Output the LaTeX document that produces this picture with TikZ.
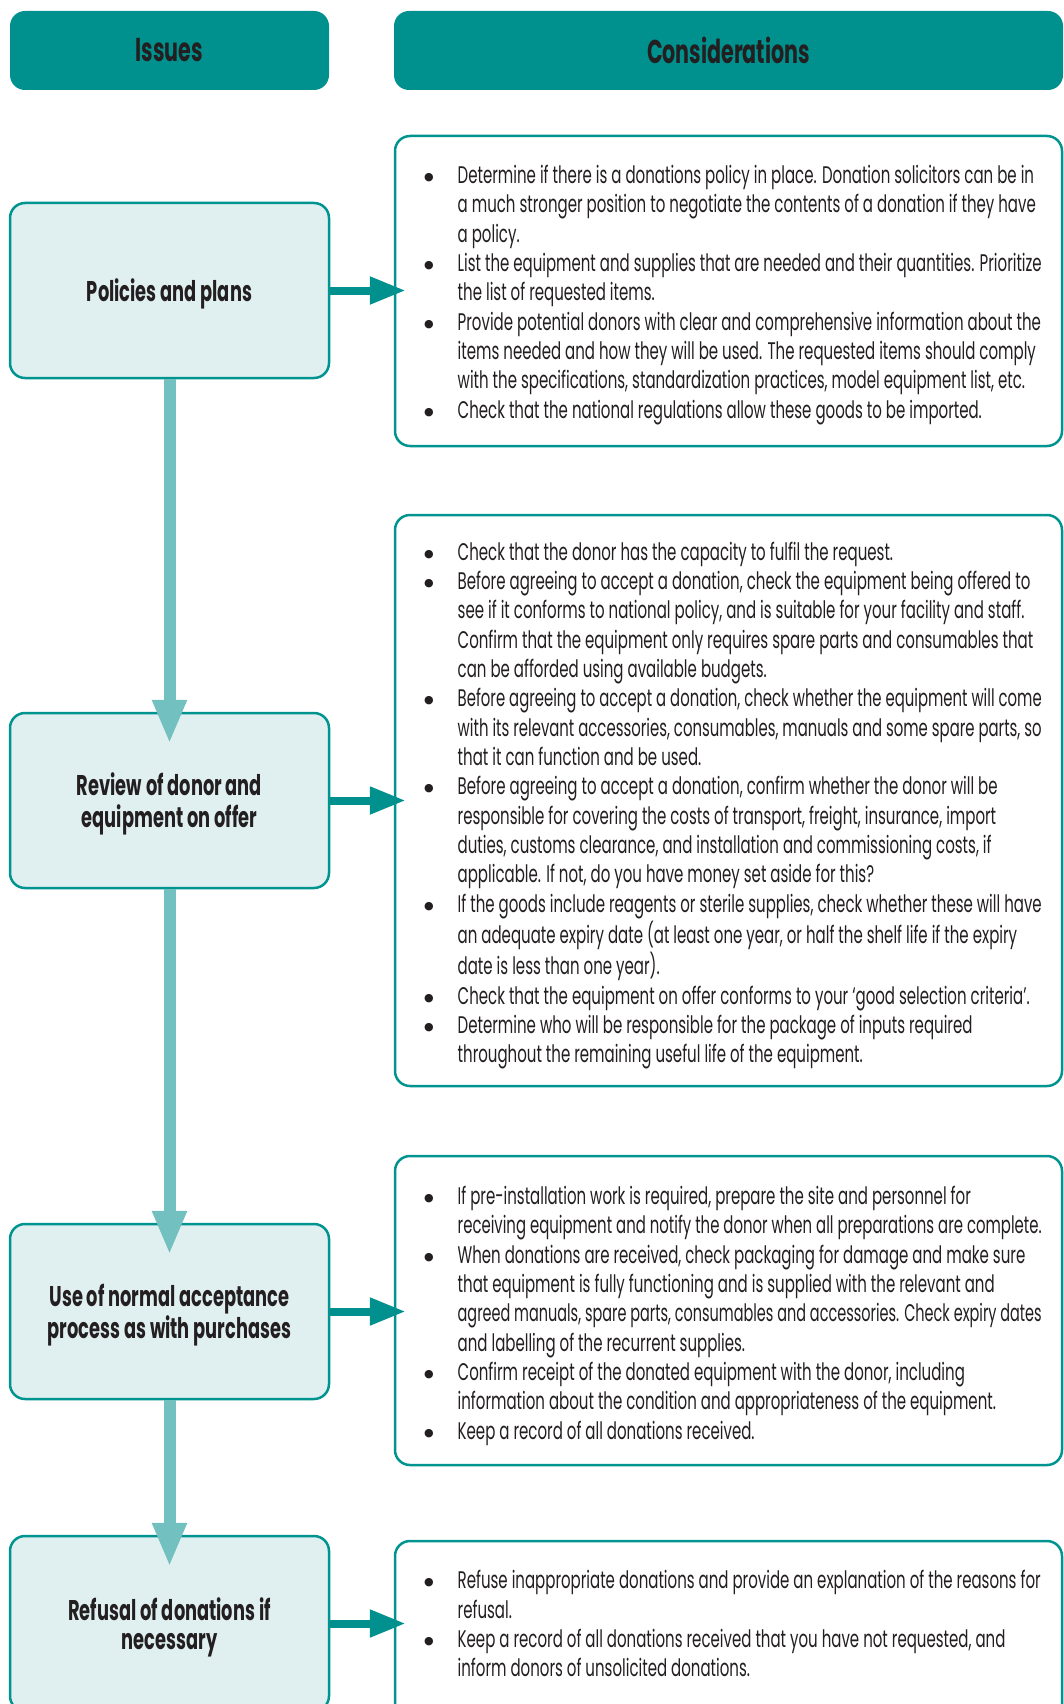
\documentclass[tikz,border=0pt]{standalone}
\usepackage{fontspec}
\setmainfont{Poppins}[FakeStretch=0.625]
\newfontfamily\symfont{DejaVu Sans}
\usetikzlibrary{arrows.meta}
\definecolor{tealMain}{HTML}{00918E}
\definecolor{tealLine}{HTML}{009490}
\definecolor{tealLight}{HTML}{72C0BF}
\definecolor{issueFill}{HTML}{E0F0F0}
\definecolor{inkText}{HTML}{231F20}
\newcommand{\bodyfont}{\fontsize{24}{29.34}\selectfont}
\newcommand{\bl}{\raisebox{3pt}{\symfont\fontsize{11}{11}\selectfont ●}}
\newsavebox{\lnbox}
\newcommand{\fl}[1]{\sbox{\lnbox}{#1}\ifdim\wd\lnbox>584pt\relax\resizebox{584pt}{\height}{\usebox{\lnbox}}\else\usebox{\lnbox}\fi}
\newcommand{\lbl}[1]{\raisebox{-4pt}[\height][\depth]{\begin{tabular}{@{}c@{}}#1\end{tabular}}}
\begin{document}
\begin{tikzpicture}[x=1pt,y=-1pt,
  headbox/.style={rectangle,rounded corners=15pt,fill=tealMain,text=inkText,
    font=\fontsize{33}{36}\selectfont\bfseries,minimum height=79,inner sep=0},
  issuebox/.style={rectangle,rounded corners=15pt,fill=issueFill,draw=tealLine,line width=2.5pt,
    text=inkText,font=\fontsize{28.5}{29}\selectfont\bfseries,align=center,
    minimum width=319,minimum height=175,inner sep=0},
  considbox/.style={rectangle,rounded corners=15pt,fill=white,draw=tealLine,line width=2.5pt,
    minimum width=667,inner sep=0},
  bodytext/.style={anchor=west,inner sep=0,text=inkText,font=\bodyfont},
  harrow/.style={draw=tealMain,line width=8pt,-{Triangle[length=36pt,width=26pt]},shorten >=-12pt},
  varrow/.style={draw=tealLight,line width=12pt,-{Triangle[length=44pt,width=32pt]},shorten >=-32pt}
]
\useasboundingbox (0,0) rectangle (1064,1704);

% headers
\node[headbox,minimum width=319] (hIssues) at (169.5,50.5) {Issues};
\node[headbox,minimum width=669] (hCons) at (728.5,50.5) {Considerations};

% consideration boxes
\node[considbox,minimum height=310] (c1) at (728.5,291) {};
\node[considbox,minimum height=571] (c2) at (728.5,800.5) {};
\node[considbox,minimum height=309] (c3) at (728.5,1310.5) {};
\node[considbox,minimum height=179] (c4) at (728.5,1630.5) {};

% issue boxes
\node[issuebox] (p1) at (169.5,290.5) {\lbl{Policies and plans}};
\node[issuebox] (p2) at (169.5,800.5) {\lbl{Review of donor and\\equipment on offer}};
\node[issuebox] (p3) at (169.5,1311.5) {\lbl{Use of normal acceptance\\process as with purchases}};
\node[issuebox] (p4) at (169.5,1623.5) {\lbl{Refusal of donations if\\necessary}};

% texts
\node[bodytext] (t1) at (424,295) {\begin{tabular}{@{}p{33.5pt}@{}l@{}}
\bl & \fl{Determine if there is a donations policy in place. Donation solicitors can be in}\\
 & \fl{a much stronger position to negotiate the contents of a donation if they have}\\
 & a policy.\\
\bl & \fl{List the equipment and supplies that are needed and their quantities. Prioritize}\\
 & the list of requested items.\\
\bl & \fl{Provide potential donors with clear and comprehensive information about the}\\
 & \fl{items needed and how they will be used. The requested items should comply}\\
 & \fl{with the specifications, standardization practices, model equipment list, etc.}\\
\bl & \fl{Check that the national regulations allow these goods to be imported.}
\end{tabular}};

\node[bodytext] (t2) at (424,805.6) {\begin{tabular}{@{}p{33.5pt}@{}l@{}}
\bl & \fl{Check that the donor has the capacity to fulfil the request.}\\
\bl & \fl{Before agreeing to accept a donation, check the equipment being offered to}\\
 & \fl{see if it conforms to national policy, and is suitable for your facility and staff.}\\
 & \fl{Confirm that the equipment only requires spare parts and consumables that}\\
 & \fl{can be afforded using available budgets.}\\
\bl & \fl{Before agreeing to accept a donation, check whether the equipment will come}\\
 & \fl{with its relevant accessories, consumables, manuals and some spare parts, so}\\
 & \fl{that it can function and be used.}\\
\bl & \fl{Before agreeing to accept a donation, confirm whether the donor will be}\\
 & \fl{responsible for covering the costs of transport, freight, insurance, import}\\
 & \fl{duties, customs clearance, and installation and commissioning costs, if}\\
 & \fl{applicable. If not, do you have money set aside for this?}\\
\bl & \fl{If the goods include reagents or sterile supplies, check whether these will have}\\
 & \fl{an adequate expiry date (at least one year, or half the shelf life if the expiry}\\
 & \fl{date is less than one year).}\\
\bl & \fl{Check that the equipment on offer conforms to your ‘good selection criteria’.}\\
\bl & \fl{Determine who will be responsible for the package of inputs required}\\
 & \fl{throughout the remaining useful life of the equipment.}
\end{tabular}};

\node[bodytext] (t3) at (424,1316) {\begin{tabular}{@{}p{33.5pt}@{}l@{}}
\bl & \fl{If pre-installation work is required, prepare the site and personnel for}\\
 & \fl{receiving equipment and notify the donor when all preparations are complete.}\\
\bl & \fl{When donations are received, check packaging for damage and make sure}\\
 & \fl{that equipment is fully functioning and is supplied with the relevant and}\\
 & \fl{agreed manuals, spare parts, consumables and accessories. Check expiry dates}\\
 & \fl{and labelling of the recurrent supplies.}\\
\bl & \fl{Confirm receipt of the donated equipment with the donor, including}\\
 & \fl{information about the condition and appropriateness of the equipment.}\\
\bl & \fl{Keep a record of all donations received.}
\end{tabular}};

\node[bodytext] (t4) at (424,1627) {\begin{tabular}{@{}p{33.5pt}@{}l@{}}
\bl & \fl{Refuse inappropriate donations and provide an explanation of the reasons for}\\
 & refusal.\\
\bl & \fl{Keep a record of all donations received that you have not requested, and}\\
 & \fl{inform donors of unsolicited donations.}
\end{tabular}};

% connectors
\draw[varrow] (p1.south) -- (p2.north);
\draw[varrow] (p2.south) -- (p3.north);
\draw[varrow] (p3.south) -- (p4.north);
\draw[harrow] (p1.east) -- (c1.west |- p1.east);
\draw[harrow] (p2.east) -- (c2.west |- p2.east);
\draw[harrow] (p3.east) -- (c3.west |- p3.east);
\draw[harrow] (p4.east) -- (c4.west |- p4.east);
\end{tikzpicture}
\end{document}
